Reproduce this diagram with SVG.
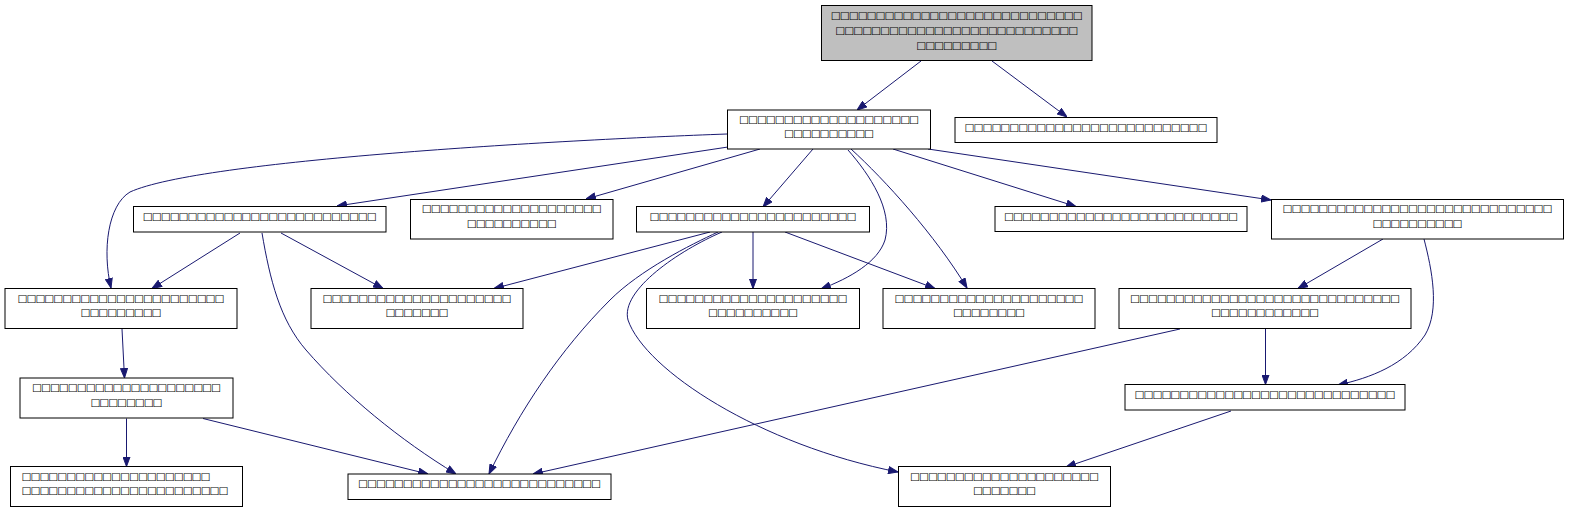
<svg xmlns="http://www.w3.org/2000/svg" width="1569" height="513" viewBox="0 0 1569 513">
<defs>
<style>
.n rect{fill:#ffffff;stroke:#000000;stroke-width:1}
.n.root rect{fill:#bfbfbf}
.n text{font-family:"DejaVu Sans",sans-serif;font-size:10.5px;fill:#000000;text-anchor:middle}
.n text.l{text-anchor:start}
.e path{fill:none;stroke:#191970;stroke-width:1;marker-end:url(#ah)}
</style>
<marker id="ah" markerWidth="10" markerHeight="8" refX="10" refY="4" orient="auto" markerUnits="userSpaceOnUse">
<path d="M0.5,0.5 L10,4 L0.5,7.5 z" fill="#191970" stroke="#191970" stroke-width="1"/>
</marker>
</defs>
<rect width="1569" height="513" fill="#ffffff"/>
<g id="edges" class="e">
<path d="M921,61 L857,110"/>
<path d="M992,61 L1067,117"/>
<path d="M727,134 C560,140 200,160 130,192 C108,205 102,250 111,288"/>
<path d="M728,147 L337,206"/>
<path d="M760,149 L586,199"/>
<path d="M813,149 L763,207"/>
<path d="M848,150 C870,175 893,210 885,240 C878,262 850,278 821,289"/>
<path d="M851,149 C885,180 935,235 967,288"/>
<path d="M893,149 L1076,206.5"/>
<path d="M928,149 L1271,200"/>
<path d="M240,233 L152,288.5"/>
<path d="M281,233 L383,288.5"/>
<path d="M262,233 C270,280 280,320 306,350 C345,395 400,440 456,474"/>
<path d="M710,232 L494,288.5"/>
<path d="M718,232 C690,245 640,270 610,300 C560,350 520,410 489,474"/>
<path d="M722,232 C680,250 620,290 628,320 C645,370 760,445 898,472"/>
<path d="M753,232 L753,288.5"/>
<path d="M785,232 L935,288.5"/>
<path d="M1383,239 L1298,288.5"/>
<path d="M1424,239 C1432,270 1440,310 1425,335 C1405,365 1370,378 1338,385"/>
<path d="M122,329 L124.5,378"/>
<path d="M126.5,418.5 L126.5,466.5"/>
<path d="M203,418.5 L428,474"/>
<path d="M1180,329 L533,474"/>
<path d="M1265.5,329 L1265.5,384.5"/>
<path d="M1231,411 L1066,467"/>
</g>
<g id="n1" class="n root"><rect x="821.5" y="5.5" width="270.5" height="55"/>
<text><tspan x="956.75" y="19" textLength="252" lengthAdjust="spacing">□□□□□□□□□□□□□□□□□□□□□□□□□□□□</tspan><tspan x="956.75" y="34" textLength="243" lengthAdjust="spacing">□□□□□□□□□□□□□□□□□□□□□□□□□□□</tspan><tspan x="956.75" y="49" textLength="81" lengthAdjust="spacing">□□□□□□□□□</tspan></text></g>
<g id="n2" class="n"><rect x="727.5" y="110" width="203" height="39"/>
<text><tspan x="829" y="122.5" textLength="180" lengthAdjust="spacing">□□□□□□□□□□□□□□□□□□□□</tspan><tspan x="829" y="137" textLength="90" lengthAdjust="spacing">□□□□□□□□□□</tspan></text></g>
<g id="n3" class="n"><rect x="955" y="117.5" width="262" height="25"/>
<text x="1086" y="130.5" textLength="243" lengthAdjust="spacing">□□□□□□□□□□□□□□□□□□□□□□□□□□□</text></g>
<g id="n4" class="n"><rect x="133.5" y="206.5" width="252.5" height="25.5"/>
<text x="259.75" y="219.5" textLength="234" lengthAdjust="spacing">□□□□□□□□□□□□□□□□□□□□□□□□□□</text></g>
<g id="n5" class="n"><rect x="410.5" y="199.5" width="202.5" height="39.5"/>
<text><tspan x="511.75" y="212" textLength="180" lengthAdjust="spacing">□□□□□□□□□□□□□□□□□□□□</tspan><tspan x="511.75" y="227" textLength="90" lengthAdjust="spacing">□□□□□□□□□□</tspan></text></g>
<g id="n6" class="n"><rect x="636.5" y="206.5" width="233" height="25.5"/>
<text x="753" y="219.5" textLength="207" lengthAdjust="spacing">□□□□□□□□□□□□□□□□□□□□□□□</text></g>
<g id="n7" class="n"><rect x="995" y="206.5" width="252" height="25"/>
<text x="1121" y="219.5" textLength="234" lengthAdjust="spacing">□□□□□□□□□□□□□□□□□□□□□□□□□□</text></g>
<g id="n8" class="n"><rect x="1271.5" y="199.5" width="292" height="39.5"/>
<text><tspan x="1417.5" y="212" textLength="270" lengthAdjust="spacing">□□□□□□□□□□□□□□□□□□□□□□□□□□□□□□</tspan><tspan x="1417.5" y="227" textLength="90" lengthAdjust="spacing">□□□□□□□□□□</tspan></text></g>
<g id="n9" class="n"><rect x="5" y="288.5" width="232" height="40"/>
<text><tspan x="121" y="301.5" textLength="207" lengthAdjust="spacing">□□□□□□□□□□□□□□□□□□□□□□□</tspan><tspan x="121" y="316" textLength="81" lengthAdjust="spacing">□□□□□□□□□</tspan></text></g>
<g id="n10" class="n"><rect x="311" y="288.5" width="212" height="40"/>
<text><tspan x="417" y="301.5" textLength="189" lengthAdjust="spacing">□□□□□□□□□□□□□□□□□□□□□</tspan><tspan x="417" y="316" textLength="63" lengthAdjust="spacing">□□□□□□□</tspan></text></g>
<g id="n11" class="n"><rect x="646.5" y="288.5" width="213" height="40"/>
<text><tspan x="753" y="301.5" textLength="189" lengthAdjust="spacing">□□□□□□□□□□□□□□□□□□□□□</tspan><tspan x="753" y="316" textLength="90" lengthAdjust="spacing">□□□□□□□□□□</tspan></text></g>
<g id="n12" class="n"><rect x="883" y="288.5" width="212" height="40"/>
<text><tspan x="989" y="301.5" textLength="189" lengthAdjust="spacing">□□□□□□□□□□□□□□□□□□□□□</tspan><tspan x="989" y="316" textLength="72" lengthAdjust="spacing">□□□□□□□□</tspan></text></g>
<g id="n13" class="n"><rect x="1119" y="288.5" width="292" height="40"/>
<text><tspan x="1265" y="301.5" textLength="270" lengthAdjust="spacing">□□□□□□□□□□□□□□□□□□□□□□□□□□□□□□</tspan><tspan x="1265" y="316" textLength="108" lengthAdjust="spacing">□□□□□□□□□□□□</tspan></text></g>
<g id="n14" class="n"><rect x="20" y="378" width="213" height="40"/>
<text><tspan x="126.5" y="391" textLength="189" lengthAdjust="spacing">□□□□□□□□□□□□□□□□□□□□□</tspan><tspan x="126.5" y="405.5" textLength="72" lengthAdjust="spacing">□□□□□□□□</tspan></text></g>
<g id="n15" class="n"><rect x="1125" y="384.5" width="280" height="25.5"/>
<text x="1265" y="397.5" textLength="261" lengthAdjust="spacing">□□□□□□□□□□□□□□□□□□□□□□□□□□□□□</text></g>
<g id="n16" class="n"><rect x="10.5" y="466.5" width="232" height="40"/>
<text class="l"><tspan x="21.5" y="479.5" textLength="189" lengthAdjust="spacing">□□□□□□□□□□□□□□□□□□□□□</tspan><tspan x="21.5" y="494" textLength="207" lengthAdjust="spacing">□□□□□□□□□□□□□□□□□□□□□□□</tspan></text></g>
<g id="n17" class="n"><rect x="348" y="474" width="263" height="25.5"/>
<text x="479.5" y="487" textLength="243" lengthAdjust="spacing">□□□□□□□□□□□□□□□□□□□□□□□□□□□</text></g>
<g id="n18" class="n"><rect x="898.5" y="466.5" width="212" height="40"/>
<text><tspan x="1004.5" y="479.5" textLength="189" lengthAdjust="spacing">□□□□□□□□□□□□□□□□□□□□□</tspan><tspan x="1004.5" y="494" textLength="63" lengthAdjust="spacing">□□□□□□□</tspan></text></g>
</svg>
